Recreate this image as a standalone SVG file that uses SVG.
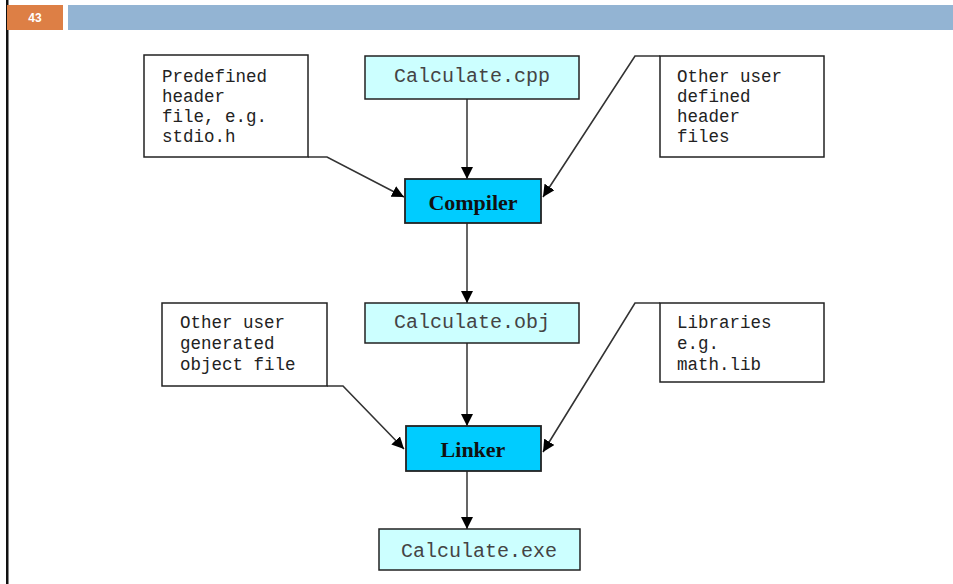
<svg xmlns="http://www.w3.org/2000/svg" width="953" height="584" viewBox="0 0 953 584">
<defs>
<style>
.note{fill:#fff;stroke:#222;stroke-width:1.5}
.file{fill:#ccffff;stroke:#222;stroke-width:1.5}
.tool{fill:#00ccff;stroke:#222;stroke-width:1.8}
.nt{font-family:"Liberation Mono","Courier New",monospace;font-size:17.5px;fill:#222}
.ft{font-family:"Liberation Mono","Courier New",monospace;font-size:20px;fill:#444;text-anchor:middle}
.tt{font-family:"Liberation Serif","Times New Roman",serif;font-size:22px;font-weight:bold;fill:#111;text-anchor:middle}
.c{fill:none;stroke:#333;stroke-width:1.6;marker-end:url(#ah)}
.cv{fill:none;stroke:#555;stroke-width:1.8;marker-end:url(#ah)}
</style>
<marker id="ah" viewBox="0 0 12 12" refX="12" refY="6" markerWidth="12" markerHeight="12" markerUnits="userSpaceOnUse" orient="auto">
<path d="M0,0 L12,6 L0,12 Z" fill="#000"/>
</marker>
</defs>
<rect width="953" height="584" fill="#fff"/>
<g id="header">
<rect x="6" y="0" width="2.5" height="584" fill="#111"/>
<rect x="7" y="5" width="56" height="25" fill="#dd7f45"/>
<text x="35" y="22" font-family="Liberation Sans,Arial,sans-serif" font-size="12" font-weight="bold" fill="#fff" text-anchor="middle">43</text>
<rect x="68" y="5" width="885" height="25" fill="#93b4d3"/>
</g>
<g id="connectors">
<line class="cv" x1="467" y1="99" x2="467" y2="179"/>
<line class="cv" x1="467" y1="223" x2="467" y2="303"/>
<line class="cv" x1="467" y1="343" x2="467" y2="426"/>
<line class="cv" x1="467" y1="471" x2="467" y2="529"/>
<polyline class="c" points="308,157 327,157 404,197"/>
<polyline class="c" points="660,56 635,56 543,197"/>
<polyline class="c" points="327,386 343,386 404,449"/>
<polyline class="c" points="660,303 635,303 543,452"/>
</g>
<g id="predefined">
<rect class="note" x="144" y="55" width="164" height="102"/>
<text class="nt" x="162" y="82">Predefined</text>
<text class="nt" x="162" y="102">header</text>
<text class="nt" x="162" y="122">file, e.g.</text>
<text class="nt" x="162" y="142">stdio.h</text>
</g>
<g id="calculate-cpp">
<rect class="file" x="365" y="56" width="214" height="43"/>
<text class="ft" x="472" y="82">Calculate.cpp</text>
</g>
<g id="user-headers">
<rect class="note" x="660" y="56" width="164" height="101"/>
<text class="nt" x="677" y="82">Other user</text>
<text class="nt" x="677" y="102">defined</text>
<text class="nt" x="677" y="122">header</text>
<text class="nt" x="677" y="142">files</text>
</g>
<g id="compiler">
<rect class="tool" x="405" y="179" width="136" height="44"/>
<text class="tt" x="473" y="210">Compiler</text>
</g>
<g id="user-objects">
<rect class="note" x="162" y="303" width="165" height="83"/>
<text class="nt" x="180" y="328">Other user</text>
<text class="nt" x="180" y="349">generated</text>
<text class="nt" x="180" y="370">object file</text>
</g>
<g id="calculate-obj">
<rect class="file" x="365" y="303" width="214" height="40"/>
<text class="ft" x="472" y="328">Calculate.obj</text>
</g>
<g id="libraries">
<rect class="note" x="660" y="303" width="164" height="79"/>
<text class="nt" x="677" y="328">Libraries</text>
<text class="nt" x="677" y="349">e.g.</text>
<text class="nt" x="677" y="370">math.lib</text>
</g>
<g id="linker">
<rect class="tool" x="406" y="426" width="135" height="45"/>
<text class="tt" x="473" y="457">Linker</text>
</g>
<g id="calculate-exe">
<rect class="file" x="379" y="529" width="201" height="41"/>
<text class="ft" x="479" y="557">Calculate.exe</text>
</g>
</svg>
